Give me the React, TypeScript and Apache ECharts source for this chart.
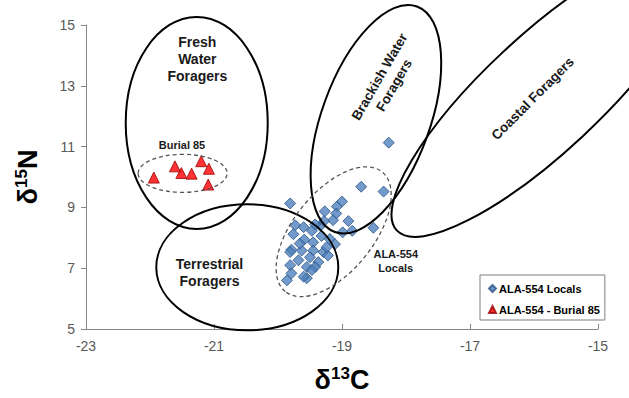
import React, { useEffect, useRef } from 'react';
import * as echarts from 'echarts';

// ---- data ----
const xTicks = [-23, -21, -19, -17, -15];
const yTicks = [5, 7, 9, 11, 13, 15];

const seriesNames = ['ALA-554 Locals', 'ALA-554 - Burial 85'];

const localsX = [
  -18.27, -18.7, -18.35, -19.81, -19.0, -19.08, -19.27, -19.09, -18.9, -19.14,
  -18.51, -18.99, -18.84, -19.73, -19.6, -19.47, -19.34, -19.76, -19.59, -19.45,
  -19.32, -19.19, -19.11, -19.79, -19.63, -19.45, -19.29, -19.22, -19.68, -19.5,
  -19.37, -19.81, -19.55, -19.42, -19.79, -19.55, -19.86, -19.28, -19.42, -19.6,
  -19.47, -19.81, -19.24, -19.66,
];
const localsY = [
  11.13, 9.68, 9.52, 9.13, 9.19, 9.03, 8.87, 8.8, 8.55, 8.58,
  8.33, 8.18, 8.23, 8.41, 8.35, 8.23, 8.39, 8.12, 7.94, 7.85,
  8.06, 7.96, 7.79, 7.61, 7.58, 7.58, 7.53, 7.42, 7.26, 7.36,
  7.2, 7.1, 7.04, 7.04, 6.83, 6.67, 6.6, 8.55, 8.44, 6.72,
  6.94, 7.53, 7.69, 7.81,
];

const burialX = [-21.94, -21.61, -21.51, -21.35, -21.2, -21.08, -21.09];
const burialY = [9.98, 10.35, 10.13, 10.11, 10.52, 10.27, 9.75];

// ---- annotation zones (centre in data units, radii in px, rotation in degrees) ----
const zones = [
  { c: [-21.27, 11.78], rx: 71, ry: 106, rot: 0, dashed: false },
  { c: [-20.48, 7.03], rx: 91, ry: 63, rot: 0, dashed: false },
  { c: [-18.47, 11.9], rx: 54, ry: 120, rot: -20, dashed: false },
  { c: [-15.86, 12.73], rx: 200, ry: 58, rot: 43, dashed: false },
  { c: [-21.49, 10.12], rx: 44.5, ry: 19, rot: 0, dashed: true },
  { c: [-19.13, 8.2], rx: 77, ry: 40, rot: 51, dashed: true },
];

const zoneLabels = [
  { text: 'Fresh\nWater\nForagers', p: [-21.26, 13.87], rot: 0, size: 14, lh: 17 },
  { text: 'Terrestrial\nForagers', p: [-21.07, 6.85], rot: 0, size: 14, lh: 17 },
  { text: 'Brackish Water\nForagers', p: [-18.3, 13.16], rot: 60, size: 13.5, lh: 17 },
  { text: 'Coastal Foragers', p: [-16.02, 12.58], rot: 45, size: 13.5, lh: 17 },
  { text: 'Burial 85', p: [-21.5, 11.04], rot: 0, size: 11, lh: 13 },
  { text: 'ALA-554\nLocals', p: [-18.16, 7.23], rot: 0, size: 11, lh: 13.5 },
];

const FONT = '"Liberation Sans", Arial, sans-serif';

export default function App() {
  const ref = useRef<HTMLDivElement>(null);

  useEffect(() => {
    if (!ref.current) return;
    const chart = echarts.init(ref.current, null, { renderer: 'svg' });

    const axisLine = { lineStyle: { color: '#868686', width: 1 } };
    const option: any = {
      animation: false,
      backgroundColor: '#ffffff',
      textStyle: { fontFamily: FONT },
      grid: { left: 86, right: 31, top: 25, bottom: 63, containLabel: false },
      xAxis: {
        type: 'value',
        min: xTicks[0],
        max: xTicks[xTicks.length - 1],
        interval: 2,
        axisLine,
        axisTick: { show: true, inside: true, length: 5, lineStyle: { color: '#868686' } },
        splitLine: { show: false },
        axisLabel: { color: '#595959', fontSize: 14, fontFamily: FONT, margin: 10 },
        name: '{a|δ}{b|13}{a|C}',
        nameLocation: 'middle',
        nameGap: 36,
        nameTextStyle: {
          rich: {
            a: { fontSize: 27, fontWeight: 'bold', fontFamily: FONT, color: '#000' },
            b: { fontSize: 17, fontWeight: 'bold', fontFamily: FONT, color: '#000', padding: [0, 0, 12, 0] },
          },
        },
      },
      yAxis: {
        type: 'value',
        min: yTicks[0],
        max: yTicks[yTicks.length - 1],
        interval: 2,
        axisLine: { show: true, ...axisLine },
        axisTick: { show: true, inside: false, length: 5, lineStyle: { color: '#868686' } },
        splitLine: { show: false },
        axisLabel: { color: '#595959', fontSize: 14, fontFamily: FONT, margin: 11 },
        name: '{a|δ}{b|15}{a|N}',
        nameLocation: 'middle',
        nameRotate: 90,
        nameGap: 44,
        nameTextStyle: {
          rich: {
            a: { fontSize: 27, fontWeight: 'bold', fontFamily: FONT, color: '#000' },
            b: { fontSize: 17, fontWeight: 'bold', fontFamily: FONT, color: '#000', padding: [0, 0, 12, 0] },
          },
        },
      },
      legend: {
        orient: 'vertical',
        left: 480,
        top: 275,
        padding: [8, 5, 5, 8],
        itemGap: 10,
        itemWidth: 7,
        itemHeight: 7,
        borderColor: '#7f7f7f',
        borderWidth: 1,
        backgroundColor: '#fff',
        textStyle: { fontSize: 11, fontWeight: 'bold', color: '#000', fontFamily: FONT, padding: [0, 0, 0, -2] },
        data: [
          { name: seriesNames[0], icon: 'diamond' },
          { name: seriesNames[1], icon: 'triangle' },
        ],
      },
      series: [
        {
          name: seriesNames[0],
          type: 'scatter',
          symbol: 'diamond',
          symbolSize: 11,
          z: 3,
          itemStyle: { color: '#4F81BD', borderColor: '#2C5486', borderWidth: 1 },
          data: localsX.map((x, i) => [x, localsY[i]]),
        },
        {
          name: seriesNames[1],
          type: 'scatter',
          symbol: 'triangle',
          symbolSize: 11,
          z: 3,
          itemStyle: { color: '#FF0000', borderColor: '#9B0000', borderWidth: 1 },
          data: burialX.map((x, i) => [x, burialY[i]]),
        },
      ],
    };
    chart.setOption(option);

    const toPx = (p: number[]) => chart.convertToPixel({ gridIndex: 0 }, p) as number[];
    const graphics: any[] = [];
    zones.forEach((z) => {
      const [cx, cy] = toPx(z.c);
      graphics.push({
        type: 'ellipse',
        x: cx,
        y: cy,
        rotation: (z.rot * Math.PI) / 180,
        silent: true,
        z: 10,
        shape: { cx: 0, cy: 0, rx: z.rx, ry: z.ry },
        style: z.dashed
          ? { fill: 'none', stroke: '#555', lineWidth: 1.3, lineDash: [4, 3] }
          : { fill: 'none', stroke: '#000', lineWidth: 2 },
      });
    });
    zoneLabels.forEach((t) => {
      const [x, y] = toPx(t.p);
      graphics.push({
        type: 'text',
        x,
        y,
        rotation: (t.rot * Math.PI) / 180,
        silent: true,
        z: 11,
        style: {
          text: t.text,
          fontSize: t.size,
          fontWeight: 'bold',
          fontFamily: FONT,
          lineHeight: t.lh,
          fill: '#1a1a1a',
          align: 'center',
          verticalAlign: 'middle',
        },
      });
    });
    chart.setOption({ graphic: graphics });

    return () => chart.dispose();
  }, []);

  return (
    <div
      ref={ref}
      style={{ position: 'fixed', left: 0, top: 0, width: 629, height: 398, background: '#fff' }}
    />
  );
}
